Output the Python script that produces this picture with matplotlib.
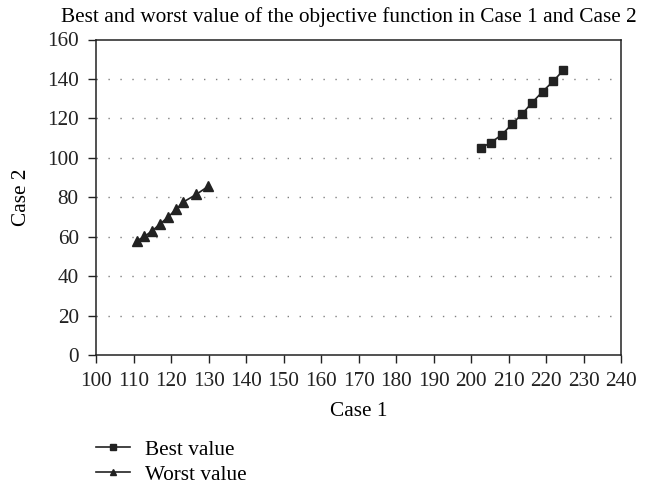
import matplotlib
matplotlib.use("Agg")
import matplotlib.pyplot as plt
from matplotlib.lines import Line2D

best_x = [202.7, 205.3, 208.2, 211.0, 213.7, 216.3, 219.1, 221.9, 224.6]
best_y = [105.1, 107.7, 111.7, 117.2, 122.4, 128.0, 133.6, 138.8, 144.4]
worst_x = [110.9, 112.9, 115.0, 117.1, 119.3, 121.3, 123.3, 126.7, 129.9]
worst_y = [57.9, 60.1, 63.0, 66.5, 70.1, 73.8, 77.6, 81.4, 85.5]
x_ticks = list(range(100, 241, 10))
y_ticks = list(range(0, 161, 20))

plt.rcParams['font.family'] = ['Liberation Serif', 'DejaVu Serif']
FS = 15.3

fig = plt.figure(figsize=(6.48, 4.93), dpi=100)
ax = fig.add_axes([96/648, 1-355/493, (621-96)/648, (355-39.5)/493])

ax.plot(best_x, best_y, color='#222222', lw=1.2, marker='s', ms=6, mfc='#222222', mec='#222222')
ax.plot(worst_x, worst_y, color='#222222', lw=1.2, marker='^', ms=7, mfc='#222222', mec='#222222')

ax.set_xlim(100, 240)
ax.set_ylim(0, 160)
ax.set_xticks(x_ticks)
ax.set_yticks(y_ticks)
ax.tick_params(direction='out', length=5.5, width=1, labelsize=FS, colors='#222222')
ax.tick_params(axis='x', pad=6.5)
ax.tick_params(axis='y', pad=7)
for s in ax.spines.values():
    s.set_linewidth(1.1)
    s.set_color('#222222')

for y in y_ticks[1:-1]:
    ax.axhline(y, color='#808080', lw=1.0, linestyle=(0, (1, 7.6)), zorder=0)

ax.set_xlabel('Case 1', fontsize=FS, labelpad=8)
ax.set_ylabel('Case 2', fontsize=FS, labelpad=11.5)
fig.text(349/648, 1-17/493, 'Best and worst value of the objective function in Case 1 and Case 2',
         ha='center', va='center', fontsize=FS)

handles = [Line2D([], [], color='#222222', lw=1.2, marker='s', ms=4.5),
           Line2D([], [], color='#222222', lw=1.2, marker='^', ms=5)]
fig.legend(handles, ['Best value', 'Worst value'], loc='upper left',
           bbox_to_anchor=(96/648, 1-440/493), bbox_transform=fig.transFigure,
           frameon=False, fontsize=FS, handlelength=1.6, handletextpad=0.7,
           labelspacing=0.24, borderpad=0, borderaxespad=0, numpoints=1)

fig.savefig('out.png', dpi=100)
